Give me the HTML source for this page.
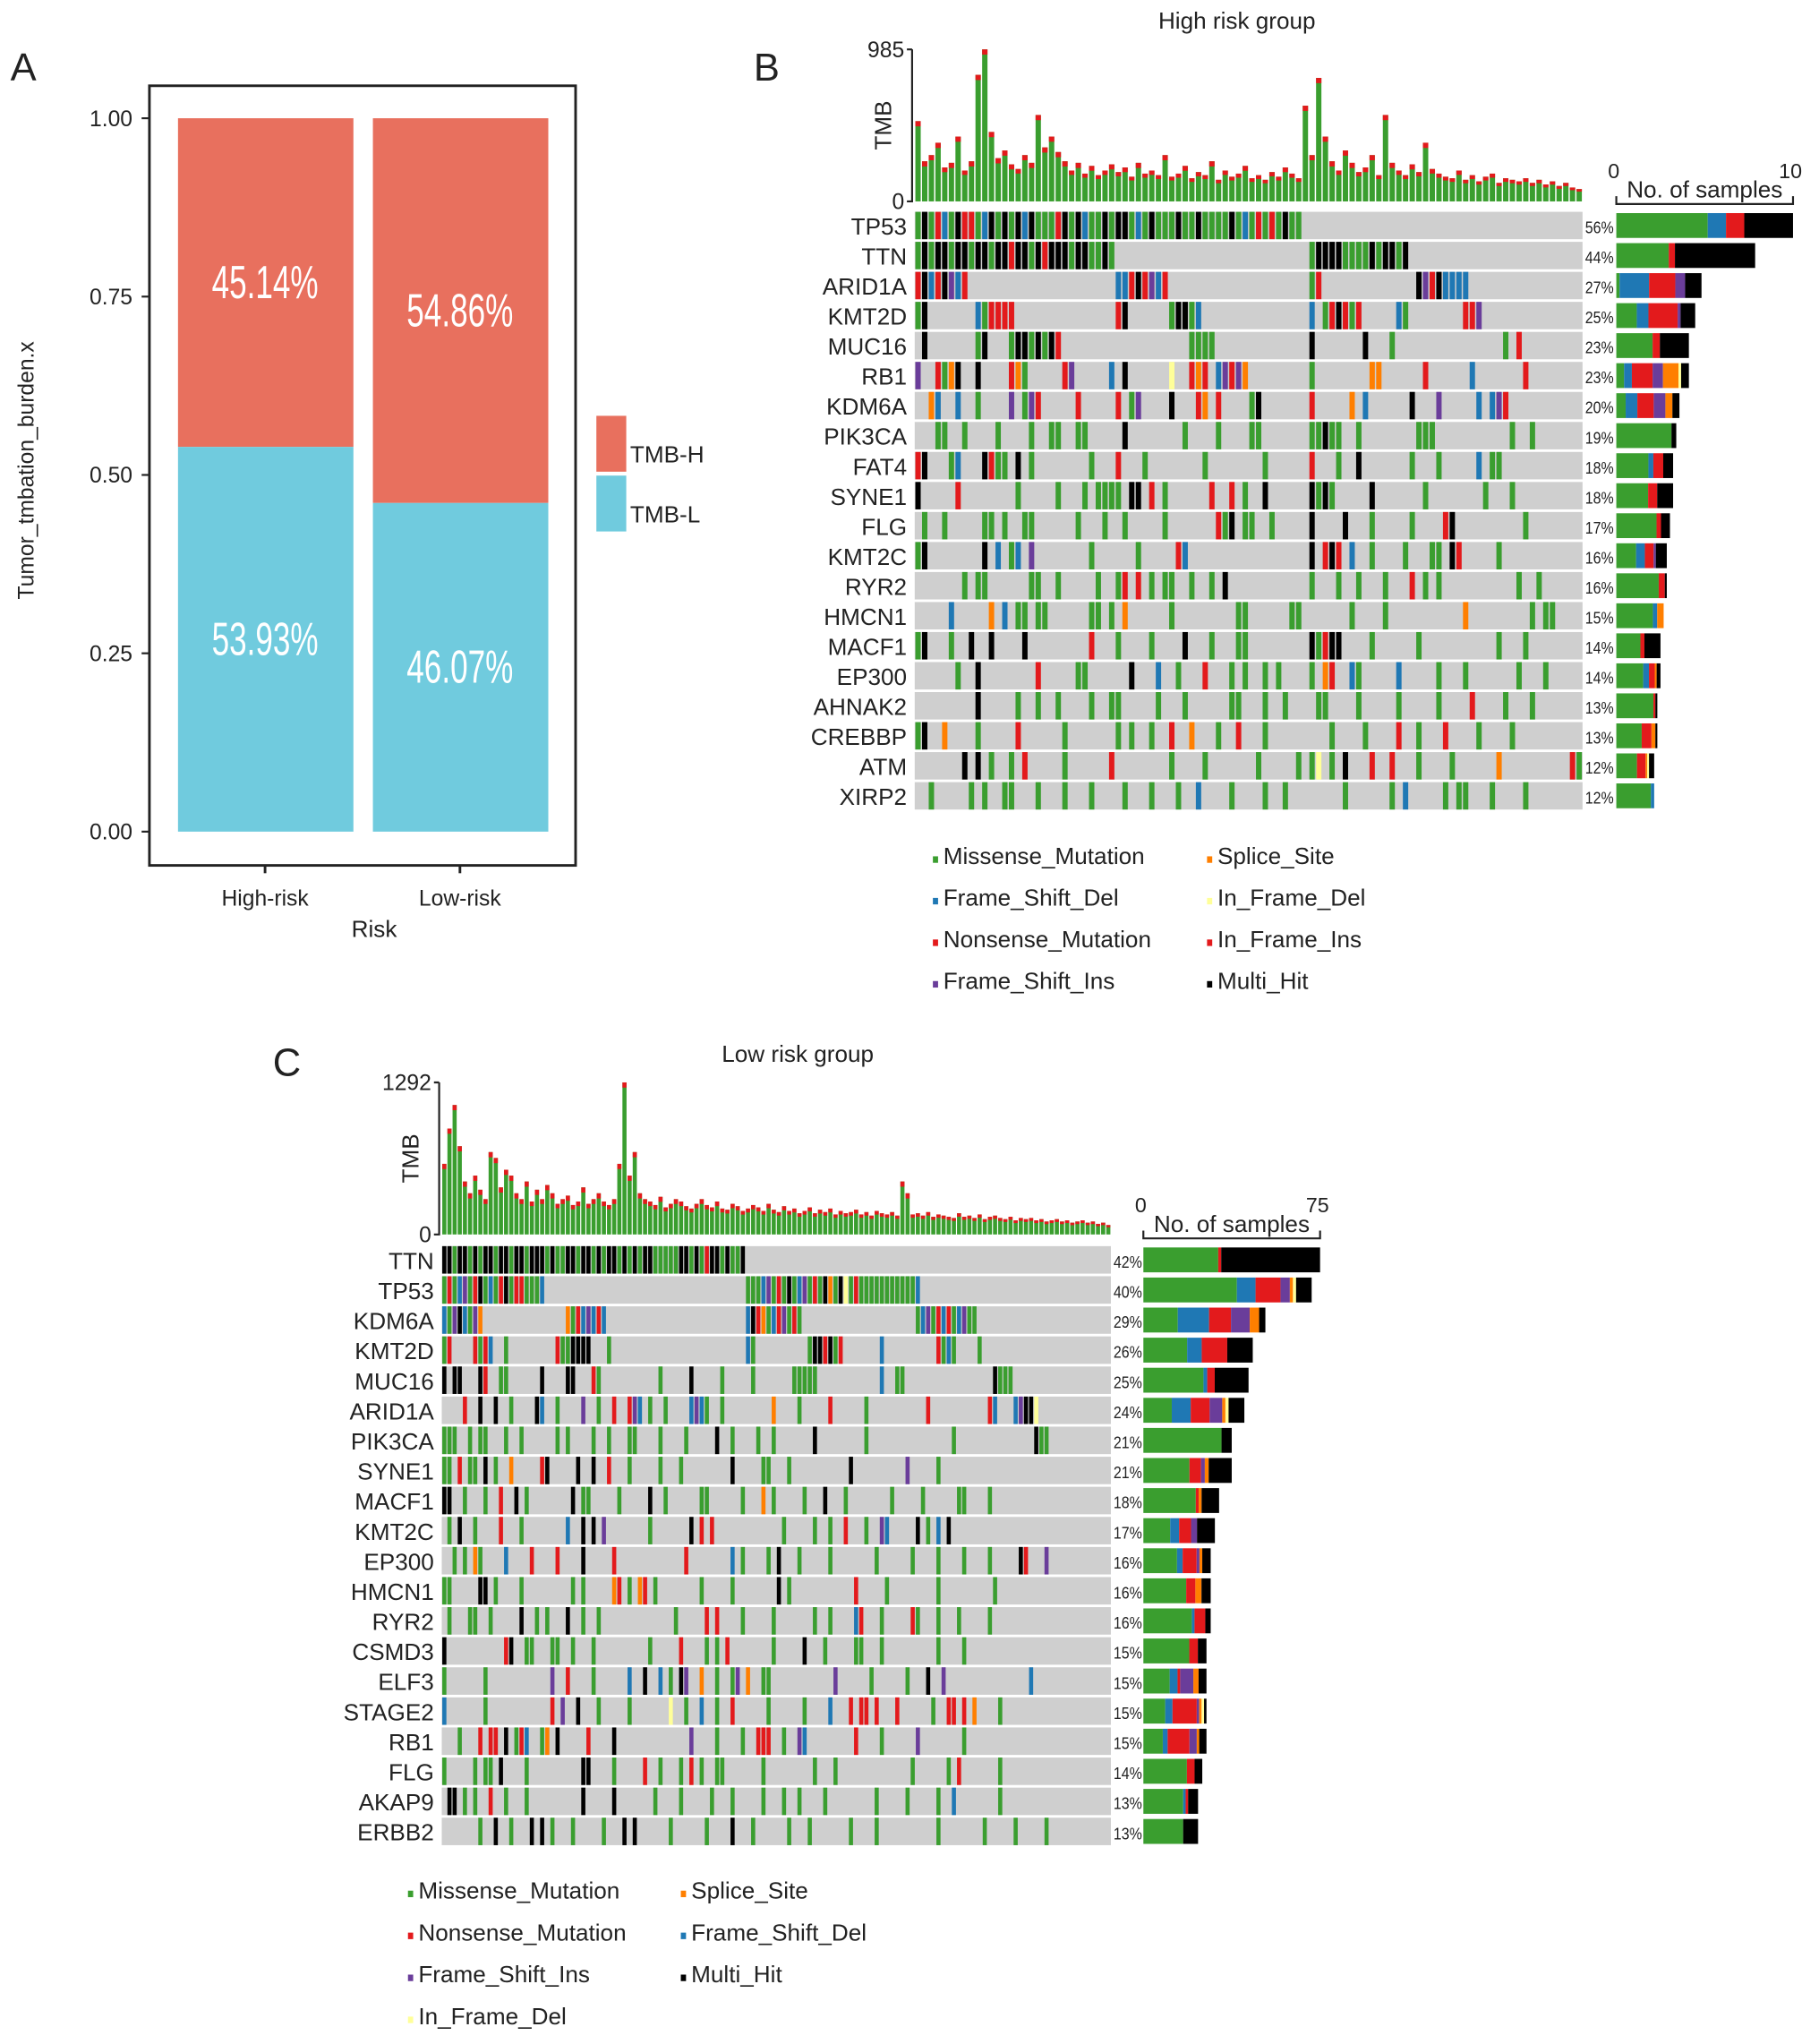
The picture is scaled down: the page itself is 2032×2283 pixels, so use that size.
<!DOCTYPE html>
<html><head><meta charset="utf-8"><style>
html,body{margin:0;padding:0;background:#fff}
svg{display:block}
text{font-family:"Liberation Sans",sans-serif;fill:#222}
</style></head><body>
<svg id="fig" width="2032" height="2283" viewBox="0 0 1400 1573" preserveAspectRatio="none" xmlns="http://www.w3.org/2000/svg">
<!-- Panel A -->
<g>
<text x="8" y="62" font-size="30">A</text>
<rect x="115" y="66" width="328" height="600" fill="none" stroke="#222" stroke-width="2"/>
<g id="aAxis"></g>
<g id="aBars"></g>
<text transform="translate(26,362) rotate(-90)" text-anchor="middle" font-size="17">Tumor_tmbation_burden.x</text>
<text x="288" y="721" text-anchor="middle" font-size="18">Risk</text>
<rect x="459" y="320" width="23" height="43" fill="#E8705E"/>
<rect x="459" y="366" width="23" height="43" fill="#70CBDE"/>
<text x="485" y="356" font-size="18">TMB-H</text>
<text x="485" y="402" font-size="18">TMB-L</text>
</g>
<!-- Panel B -->
<g>
<text x="580" y="62" font-size="30">B</text>
<text x="952" y="22" text-anchor="middle" font-size="18">High risk group</text>
<g id="bPlot"></g>
</g>
<!-- Panel C -->
<g>
<text x="210" y="828" font-size="30">C</text>
<text x="614" y="817" text-anchor="middle" font-size="18">Low risk group</text>
<g id="cPlot"></g>
</g>
</svg>
<script>
const NS="http://www.w3.org/2000/svg";
const COLORS={g:"#3A9E2F",b:"#1F78B4",r:"#E31A1C",p:"#6A3D9A",o:"#FF7F00",y:"#FFFF99",k:"#000000",i:"#E31A1C"};
const ORDER=["g","b","r","p","o","y","k"];

// Panel A data
const aCategories=["High-risk","Low-risk"];
const aLow=[0.5393,0.4607];
const aLowLabels=["53.93%","46.07%"];
const aHighLabels=["45.14%","54.86%"];
const aTicks=[0,0.25,0.5,0.75,1];
const aTickLabels=["0.00","0.25","0.50","0.75","1.00"];

// Panel B data
const bGenes=["TP53","TTN","ARID1A","KMT2D","MUC16","RB1","KDM6A","PIK3CA","FAT4","SYNE1","FLG","KMT2C","RYR2","HMCN1","MACF1","EP300","AHNAK2","CREBBP","ATM","XIRP2"];
const bPct=[56,44,27,25,23,23,20,19,18,18,17,16,16,15,14,14,13,13,12,12];
const bTmb=[520,260,300,380,220,250,420,200,260,820,985,450,280,330,240,210,300,250,560,350,420,320,260,200,250,180,230,170,200,240,190,220,160,250,180,200,170,300,160,180,230,150,190,170,260,140,200,160,180,230,150,170,140,190,160,220,180,150,620,300,800,420,260,200,330,250,190,220,300,170,560,250,200,170,240,190,380,210,180,160,150,200,140,170,130,160,180,120,150,140,130,150,120,140,110,130,100,120,90,80];
const bRows=[
[[0,"gkgrbgkrrgbkgkgkbkgggrkgkbggkgkkgbgkgggkggkggggkgbgrgrgkgg"]],
[[0,"gkgkkgkkgkkgkkrkkgkrkkkgkkggkg"],[59,"gkkkkggggkgkkgk"]],
[[0,"rkbrkpbr"],[30,"bbrkrpbr"],[59,"gr"],[75,"kprkbbbb"]],
[[0,"gk"],[9,"bgrrrr"],[30,"rk"],[38,"gkkgb"],[59,"b"],[61,"grkrgr"],[72,"bg"],[82,"rrp"]],
[[1,"k"],[9,"gk"],[14,"gkkgkgkr"],[41,"gggg"],[59,"k"],[67,"k"],[71,"g"],[88,"g"],[90,"r"]],
[[0,"p"],[3,"rgok"],[9,"k"],[14,"rog"],[22,"rp"],[29,"b"],[31,"k"],[38,"y"],[41,"ror"],[45,"bprpo"],[59,"g"],[68,"oo"],[76,"r"],[83,"b"],[91,"r"]],
[[2,"ob"],[6,"b"],[9,"g"],[14,"p"],[16,"gpr"],[24,"r"],[30,"r"],[32,"gp"],[38,"k"],[42,"ro"],[45,"r"],[50,"gk"],[59,"r"],[65,"o"],[67,"b"],[74,"k"],[78,"p"],[84,"b"],[86,"bpr"]],
[[3,"gg"],[7,"g"],[12,"g"],[17,"g"],[20,"gg"],[24,"gg"],[31,"k"],[40,"g"],[45,"g"],[50,"gg"],[59,"ggkgg"],[66,"g"],[75,"ggg"],[89,"g"],[92,"g"]],
[[0,"rk"],[5,"gb"],[10,"kr"],[12,"gg"],[15,"k"],[17,"g"],[26,"g"],[30,"r"],[34,"g"],[43,"g"],[52,"g"],[59,"r"],[63,"g"],[66,"k"],[74,"g"],[78,"g"],[84,"b"],[86,"gg"]],
[[0,"k"],[6,"r"],[15,"g"],[21,"g"],[25,"g"],[27,"ggg"],[30,"g"],[32,"kk"],[35,"r"],[37,"g"],[44,"r"],[47,"r"],[49,"g"],[52,"k"],[59,"kgkg"],[68,"k"],[76,"g"],[85,"g"],[89,"g"]],
[[1,"g"],[4,"g"],[10,"gg"],[13,"g"],[16,"gg"],[24,"g"],[28,"g"],[31,"g"],[37,"g"],[45,"rgk"],[49,"gg"],[53,"g"],[59,"k"],[64,"k"],[68,"g"],[74,"g"],[79,"rk"],[91,"g"]],
[[0,"gk"],[10,"k"],[12,"b"],[14,"gb"],[17,"p"],[26,"g"],[33,"g"],[39,"rb"],[59,"k"],[61,"rkr"],[65,"b"],[68,"g"],[73,"g"],[77,"gg"],[80,"kr"],[87,"g"]],
[[7,"g"],[9,"gg"],[17,"gg"],[21,"g"],[27,"g"],[30,"gr"],[33,"r"],[35,"g"],[37,"gg"],[41,"g"],[44,"g"],[46,"k"],[59,"g"],[63,"g"],[66,"g"],[70,"g"],[74,"r"],[76,"g"],[78,"g"],[90,"g"],[93,"g"]],
[[5,"b"],[11,"o"],[13,"b"],[15,"gg"],[18,"gg"],[26,"gg"],[29,"g"],[31,"o"],[38,"g"],[48,"gg"],[56,"gg"],[65,"g"],[70,"g"],[82,"o"],[92,"g"],[94,"gg"]],
[[0,"gk"],[5,"g"],[8,"k"],[11,"k"],[16,"k"],[26,"r"],[30,"g"],[35,"g"],[40,"k"],[44,"g"],[48,"gg"],[59,"kgrkk"],[68,"g"],[75,"g"],[87,"g"],[91,"g"]],
[[6,"g"],[9,"k"],[18,"r"],[24,"gg"],[32,"k"],[36,"b"],[39,"g"],[43,"r"],[47,"g"],[49,"g"],[52,"g"],[54,"g"],[59,"g"],[61,"or"],[65,"bg"],[72,"b"],[78,"g"],[82,"g"],[90,"g"],[94,"g"]],
[[9,"k"],[15,"g"],[18,"g"],[21,"g"],[26,"g"],[29,"gg"],[36,"g"],[40,"g"],[47,"gg"],[52,"g"],[55,"g"],[60,"gg"],[66,"g"],[72,"g"],[78,"g"],[83,"r"],[88,"g"],[92,"g"]],
[[0,"gk"],[4,"o"],[9,"g"],[15,"r"],[22,"g"],[30,"g"],[32,"g"],[35,"g"],[38,"r"],[41,"o"],[45,"g"],[48,"r"],[52,"g"],[62,"g"],[67,"g"],[72,"r"],[75,"g"],[79,"r"],[84,"g"],[89,"g"]],
[[7,"k"],[9,"k"],[11,"g"],[14,"g"],[16,"r"],[22,"g"],[29,"r"],[38,"g"],[43,"g"],[51,"g"],[57,"g"],[59,"gy"],[62,"g"],[64,"k"],[68,"r"],[71,"r"],[75,"g"],[80,"g"],[87,"o"],[98,"rg"]],
[[2,"g"],[8,"g"],[10,"g"],[13,"gg"],[18,"g"],[22,"g"],[26,"g"],[31,"g"],[35,"g"],[39,"g"],[42,"b"],[47,"g"],[52,"g"],[55,"g"],[64,"g"],[71,"g"],[73,"b"],[79,"g"],[81,"gg"],[86,"g"],[91,"g"]]
];

// Panel C data
const cGenes=["TTN","TP53","KDM6A","KMT2D","MUC16","ARID1A","PIK3CA","SYNE1","MACF1","KMT2C","EP300","HMCN1","RYR2","CSMD3","ELF3","STAGE2","RB1","FLG","AKAP9","ERBB2"];
const cPct=[42,40,29,26,25,24,21,21,18,17,16,16,16,15,15,15,15,14,13,13];
const cTmb=[600,900,1100,750,450,350,500,380,300,700,650,400,550,500,350,300,450,280,380,300,420,350,260,300,330,250,280,400,260,300,350,280,250,300,600,1292,500,700,350,300,280,250,320,230,260,300,280,240,220,260,300,250,230,280,220,210,260,240,200,220,250,230,200,260,210,190,240,200,220,180,200,230,180,210,190,220,170,200,180,190,210,170,190,160,200,180,170,190,160,450,350,170,180,160,190,150,170,160,150,140,180,150,160,140,170,130,150,160,140,130,150,120,140,130,140,120,130,110,120,130,110,120,100,110,120,100,110,90,100,80];
const cRows=[
[[0,"kkgkkgkgkkgkkgkkgkkkgkggkkgkkgkgkkgkgkgkkgggggkkgkgrkkgkggk"]],
[[0,"grgbpgrkgbgrkgrrgggb"],[59,"gggbpgrgkgbpgrgkogkygrgggggggggggb"]],
[[0,"bgpkbgpo"],[24,"ogrbpbrb"],[59,"bkrogbrpgrg"],[92,"gbpgrbrgbpgg"]],
[[0,"gr"],[6,"rgrb"],[12,"g"],[22,"rggkkkk"],[32,"g"],[59,"bg"],[71,"gkkrkgr"],[85,"b"],[96,"rgbg"],[104,"g"]],
[[0,"k"],[2,"kk"],[7,"kr"],[11,"gg"],[19,"k"],[24,"kk"],[29,"rg"],[42,"g"],[48,"k"],[54,"g"],[60,"g"],[68,"ggggg"],[85,"b"],[88,"gg"],[107,"kggg"]],
[[4,"r"],[7,"k"],[10,"k"],[13,"g"],[18,"kb"],[22,"g"],[27,"p"],[30,"g"],[33,"r"],[36,"rpb"],[40,"g"],[43,"g"],[48,"bpbg"],[54,"g"],[64,"o"],[69,"g"],[75,"r"],[82,"g"],[94,"r"],[106,"rb"],[111,"bpkky"]],
[[0,"ggg"],[5,"g"],[7,"gg"],[12,"g"],[15,"g"],[22,"g"],[24,"g"],[29,"g"],[32,"g"],[36,"gg"],[42,"g"],[47,"g"],[53,"k"],[56,"g"],[61,"g"],[64,"g"],[72,"k"],[82,"g"],[99,"g"],[115,"kgg"]],
[[0,"gg"],[3,"r"],[5,"gg"],[8,"k"],[10,"g"],[13,"o"],[19,"rk"],[26,"k"],[29,"k"],[32,"r"],[36,"g"],[42,"g"],[46,"g"],[56,"k"],[62,"gg"],[67,"g"],[79,"k"],[90,"p"],[96,"g"]],
[[0,"kk"],[4,"g"],[8,"g"],[11,"r"],[14,"k"],[16,"g"],[25,"k"],[27,"gg"],[34,"g"],[40,"k"],[43,"g"],[50,"gg"],[58,"g"],[62,"o"],[64,"g"],[70,"g"],[74,"k"],[78,"g"],[87,"g"],[93,"g"],[100,"gg"],[106,"g"]],
[[1,"g"],[3,"k"],[6,"g"],[11,"r"],[15,"g"],[24,"b"],[27,"k"],[29,"k"],[31,"p"],[40,"g"],[48,"k"],[50,"r"],[52,"r"],[66,"g"],[72,"g"],[75,"g"],[78,"r"],[82,"g"],[85,"pb"],[92,"k"],[94,"g"],[96,"b"],[98,"k"]],
[[2,"g"],[4,"g"],[6,"og"],[12,"b"],[17,"r"],[22,"r"],[27,"k"],[33,"r"],[47,"r"],[56,"b"],[58,"g"],[63,"g"],[65,"k"],[69,"g"],[75,"g"],[84,"g"],[91,"g"],[96,"g"],[101,"g"],[106,"g"],[112,"kr"],[117,"p"]],
[[0,"gg"],[7,"kk"],[10,"g"],[15,"g"],[25,"g"],[27,"g"],[33,"or"],[36,"g"],[38,"or"],[41,"g"],[50,"g"],[56,"g"],[65,"k"],[67,"g"],[80,"r"],[86,"g"],[96,"g"],[107,"g"]],
[[1,"g"],[5,"g"],[6,"g"],[9,"g"],[15,"k"],[18,"g"],[20,"g"],[24,"k"],[27,"g"],[30,"g"],[45,"g"],[51,"r"],[53,"r"],[58,"g"],[64,"g"],[72,"g"],[75,"g"],[80,"br"],[85,"g"],[91,"rg"],[96,"g"],[100,"g"],[106,"g"]],
[[0,"k"],[12,"r"],[13,"k"],[16,"gg"],[21,"g"],[22,"g"],[25,"g"],[29,"g"],[40,"g"],[46,"r"],[51,"g"],[53,"g"],[55,"r"],[64,"g"],[70,"k"],[74,"g"],[80,"gg"],[85,"g"],[96,"g"],[101,"g"]],
[[0,"g"],[8,"g"],[21,"p"],[24,"r"],[29,"g"],[36,"b"],[39,"k"],[42,"b"],[44,"g"],[46,"kp"],[50,"o"],[53,"g"],[56,"gp"],[59,"o"],[62,"gg"],[76,"p"],[83,"g"],[90,"g"],[94,"k"],[97,"p"],[114,"b"]],
[[0,"b"],[8,"g"],[21,"r"],[23,"p"],[26,"k"],[30,"g"],[36,"g"],[44,"y"],[47,"g"],[50,"b"],[53,"g"],[56,"r"],[63,"g"],[70,"g"],[75,"b"],[79,"r"],[81,"rr"],[84,"r"],[88,"r"],[95,"g"],[98,"rr"],[101,"r"],[103,"o"],[108,"g"]],
[[3,"g"],[7,"r"],[9,"rr"],[12,"k"],[14,"gr"],[16,"b"],[19,"go"],[22,"k"],[28,"r"],[33,"k"],[48,"p"],[53,"g"],[58,"g"],[61,"rr"],[63,"r"],[66,"g"],[69,"p"],[70,"b"],[80,"r"],[85,"g"],[92,"p"],[101,"g"]],
[[0,"g"],[6,"g"],[8,"gg"],[11,"k"],[16,"g"],[27,"kk"],[33,"g"],[39,"r"],[42,"g"],[46,"g"],[48,"r"],[50,"g"],[53,"gg"],[62,"g"],[72,"g"],[76,"g"],[91,"g"],[98,"g"],[100,"r"],[108,"g"]],
[[1,"kk"],[4,"g"],[6,"g"],[9,"r"],[12,"g"],[16,"g"],[27,"k"],[33,"k"],[41,"g"],[46,"g"],[52,"g"],[56,"g"],[62,"g"],[66,"g"],[69,"g"],[74,"g"],[84,"g"],[90,"g"],[96,"g"],[99,"b"],[108,"g"]],
[[7,"g"],[10,"k"],[13,"g"],[17,"k"],[19,"k"],[21,"g"],[25,"g"],[31,"g"],[35,"k"],[37,"k"],[44,"g"],[51,"g"],[56,"k"],[60,"g"],[67,"g"],[71,"g"],[79,"g"],[84,"g"],[96,"g"],[105,"g"],[111,"g"],[117,"g"]]
];
const bLegend=[["Missense_Mutation","g"],["Frame_Shift_Del","b"],["Nonsense_Mutation","r"],["Frame_Shift_Ins","p"],["Splice_Site","o"],["In_Frame_Del","y"],["In_Frame_Ins","r"],["Multi_Hit","k"]];
const cLegend=[["Missense_Mutation","g"],["Nonsense_Mutation","r"],["Frame_Shift_Ins","p"],["In_Frame_Del","y"],["Splice_Site","o"],["Frame_Shift_Del","b"],["Multi_Hit","k"]];

function el(tag,attrs,parent,txt){const e=document.createElementNS(NS,tag);for(const k in attrs)e.setAttribute(k,attrs[k]);if(txt!==undefined)e.textContent=txt;parent.appendChild(e);return e;}

// ---- Panel A
(function(){
  const ax=document.getElementById("aAxis"), bars=document.getElementById("aBars");
  const y=v=>640-v*549;
  aTicks.forEach((t,i)=>{
    const l=el("line",{x1:109,x2:115,y1:y(t),y2:y(t),stroke:"#222","stroke-width":1.5},ax);
    
    
    const tx=el("text",{x:102,y:y(t)+6,"text-anchor":"end","font-size":17},ax,aTickLabels[i]);
    
    
  });
  const xs=[137,287];
  aCategories.forEach((c,i)=>{
    const r1=el("rect",{x:xs[i],y:y(1),width:135,height:y(aLow[i])-y(1),fill:"#E8705E"},bars);
    
    
    const r2=el("rect",{x:xs[i],y:y(aLow[i]),width:135,height:y(0)-y(aLow[i]),fill:"#70CBDE"},bars);
    
    
    const cx=xs[i]+67;
    const t1=el("text",{x:cx,y:(y(1)+y(aLow[i]))/2+12,"text-anchor":"middle","font-size":36,fill:"#fff",style:"fill:#fff",textLength:82,lengthAdjust:"spacingAndGlyphs"},bars,aHighLabels[i]);
    
    
    const t2=el("text",{x:cx,y:(y(0)+y(aLow[i]))/2+12,"text-anchor":"middle","font-size":36,style:"fill:#fff",textLength:82,lengthAdjust:"spacingAndGlyphs"},bars,aLowLabels[i]);
    
    
    const tk=el("line",{x1:cx,x2:cx,y1:666,y2:672,stroke:"#222","stroke-width":2},ax);
    
    
    const tl=el("text",{x:cx,y:697,"text-anchor":"middle","font-size":17},ax,c);
    
    
  });
})();

// ---- Oncoplot
function oncoplot(g,cfg){
  const {genes,pct,rows,tmb,tmbMax,N,x0,x1,yTop,rowH,tmbTop,tmbBot,sideX,sideW,sideMaxPct,sideMaxLabel,legend,leg}=cfg;
  const cw=(x1-x0)/N;
  const xS=i=>x0+i*cw;
  const yT=v=>tmbBot-v/tmbMax*(tmbBot-tmbTop);
  // TMB axis
  const al=el("path",{d:`M${x0-2},${tmbTop} h-4 M${x0-2},${tmbTop} V${tmbBot} h-4`,stroke:"#222","stroke-width":1.5,fill:"none"},g);
  
  
  let t=el("text",{x:x0-8,y:tmbTop+6,"text-anchor":"end","font-size":17},g,String(tmbMax));
  
  
  t=el("text",{x:x0-8,y:tmbBot+6,"text-anchor":"end","font-size":17},g,"0");
  
  
  t=el("text",{transform:`translate(${x0-18},${(tmbTop+tmbBot)/2}) rotate(-90)`,"text-anchor":"middle","font-size":18},g,"TMB");
  
  
  tmb.forEach((v,i)=>{
    const h=tmbBot-yT(v);
    const b=el("rect",{x:xS(i)+cw*0.1,y:yT(v),width:cw*0.8,height:h,fill:COLORS.g},g);
    
    
    const c=el("rect",{x:xS(i)+cw*0.1,y:yT(v),width:cw*0.8,height:Math.min(4,h*0.1+1),fill:COLORS.r},g);
    
    
  });
  // side axis
  const sa=el("path",{d:`M${sideX},${yTop-12} v6 H${sideX+sideW} v-6`,stroke:"#222","stroke-width":1.5,fill:"none"},g);
  
  
  t=el("text",{x:sideX-2,y:yTop-26,"text-anchor":"middle","font-size":16},g,"0");
  
  
  t=el("text",{x:sideX+sideW-2,y:yTop-26,"text-anchor":"middle","font-size":16},g,sideMaxLabel);
  
  
  t=el("text",{x:sideX+sideW/2,y:yTop-11,"text-anchor":"middle","font-size":18},g,"No. of samples");
  
  
  const xSide=p=>p/sideMaxPct*sideW;
  genes.forEach((gn,r)=>{
    const y=yTop+r*rowH;
    const bg=el("rect",{x:x0,y:y,width:x1-x0,height:rowH-2,fill:"#CFCFCF"},g);
    
    
    const lb=el("text",{x:x0-6,y:y+rowH/2+6,"text-anchor":"end","font-size":18},g,gn);
    
    
    const pl=el("text",{x:x1+2,y:y+rowH/2+5,"font-size":13,textLength:22,lengthAdjust:"spacingAndGlyphs"},g,pct[r]+"%");
    
    
    const counts={};
    rows[r].forEach(([s,codes])=>{
      for(let j=0;j<codes.length;j++){
        const c=codes[j]; if(c==='.')continue;
        counts[c]=(counts[c]||0)+1;
        const m=el("rect",{x:xS(s+j)+cw*0.1,y:y,width:cw*0.8,height:rowH-2,fill:COLORS[c]},g);
        
        
      }
    });
    const tot=Object.values(counts).reduce((a,b)=>a+b,0);
    const L=xSide(pct[r]); let cx=sideX;
    ORDER.forEach(c=>{
      if(!counts[c])return;
      const w=L*counts[c]/tot;
      const sb=el("rect",{x:cx,y:y+1,width:w,height:rowH-4,fill:COLORS[c]},g);
      
      
      cx+=w;
    });
  });
  // legend
  legend.forEach(([name,c],i)=>{
    const col=Math.floor(i/leg.perCol), row=i%leg.perCol;
    const lx=leg.x[col], ly=leg.y0+row*leg.dy;
    const m=el("rect",{x:lx,y:ly-6,width:4,height:5,fill:COLORS[c]},g);
    
    
    const tx=el("text",{x:lx+8,y:ly,"font-size":18},g,name);
    
    
  });
}
oncoplot(document.getElementById("bPlot"),{genes:bGenes,pct:bPct,rows:bRows,tmb:bTmb,tmbMax:985,N:100,x0:704,x1:1218,yTop:163,rowH:23.1,tmbTop:38,tmbBot:155,sideX:1244,sideW:136,sideMaxPct:56,sideMaxLabel:"10",legend:bLegend,leg:{perCol:4,x:[718,929],y0:665,dy:32}});
oncoplot(document.getElementById("cPlot"),{genes:cGenes,pct:cPct,rows:cRows,tmb:cTmb,tmbMax:1292,N:130,x0:340,x1:855,yTop:959,rowH:23.15,tmbTop:833,tmbBot:950,sideX:880,sideW:136,sideMaxPct:42,sideMaxLabel:"75",legend:cLegend,leg:{perCol:4,x:[314,524],y0:1461,dy:32.3}});
</script>
</body></html>
